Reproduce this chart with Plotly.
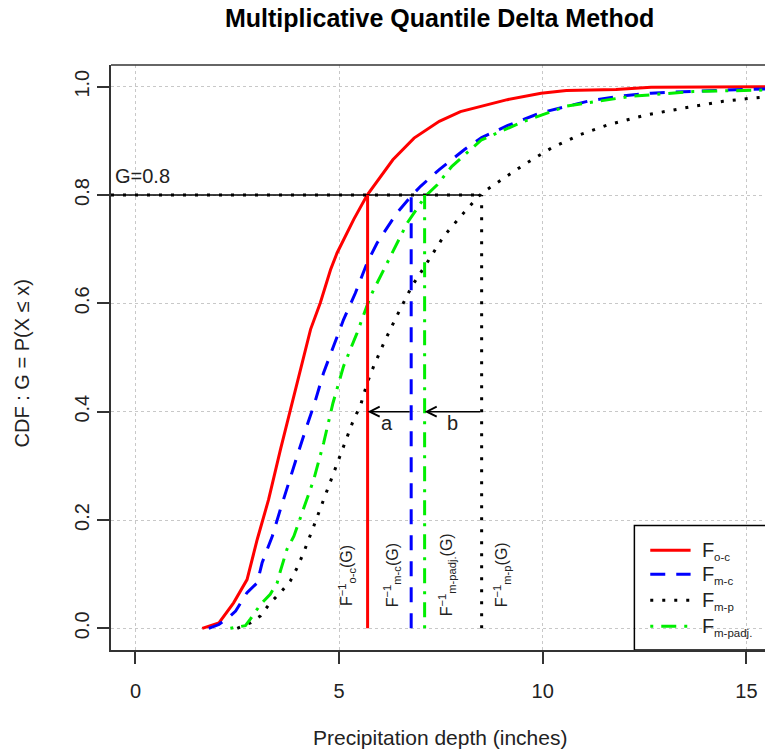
import plotly.graph_objects as go

# ---------------- data ----------------
obs_hist_x = [1.64, 2.05, 2.41, 2.74, 2.99, 3.27, 3.56, 3.81, 4.05, 4.30, 4.54, 4.79, 4.95,
              5.36, 5.69, 5.93, 6.32, 6.84, 7.46, 7.98, 8.5, 9.13, 9.96, 10.58, 11.8, 12.66, 15.6]
obs_hist_y = [0.0, 0.01, 0.047, 0.09, 0.164, 0.238, 0.33, 0.404, 0.478, 0.552, 0.601, 0.662, 0.693,
              0.755, 0.80, 0.825, 0.865, 0.905, 0.936, 0.954, 0.964, 0.976, 0.988, 0.993, 0.995, 0.999, 1.0]

mod_hist_x = [1.80, 2.05, 2.33, 2.46, 2.74, 2.99, 3.11, 3.36, 3.56, 3.76, 3.97, 4.18, 4.40, 4.62,
              4.87, 5.11, 5.40, 5.69, 5.93, 6.42, 6.77, 7.0, 7.46, 8.08, 8.5, 9.13, 9.96, 11.1,
              11.83, 12.66, 14.54, 15.6]
mod_hist_y = [0.0, 0.007, 0.023, 0.032, 0.066, 0.084, 0.121, 0.17, 0.22, 0.269, 0.318, 0.367, 0.416,
              0.472, 0.521, 0.57, 0.619, 0.675, 0.711, 0.767, 0.798, 0.816, 0.847, 0.884, 0.906,
              0.928, 0.952, 0.973, 0.982, 0.988, 0.994, 0.996]

mod_proj_x = [2.5, 2.82, 3.07, 3.31, 3.56, 3.80, 3.97, 4.13, 4.38, 4.62, 4.87, 5.11, 5.36, 5.52,
              5.69, 5.85, 6.10, 6.42, 6.79, 7.16, 7.57, 8.06, 8.43, 8.63, 8.92, 9.54, 10.22, 10.9,
              11.62, 12.56, 13.5, 14.43, 15.16, 15.6]
mod_proj_y = [0.0, 0.01, 0.023, 0.047, 0.066, 0.087, 0.112, 0.14, 0.189, 0.238, 0.287, 0.336, 0.386,
              0.41, 0.453, 0.484, 0.527, 0.577, 0.632, 0.675, 0.724, 0.767, 0.798, 0.81, 0.825,
              0.856, 0.887, 0.911, 0.93, 0.948, 0.961, 0.973, 0.979, 0.982]

adj_x = [2.33, 2.70, 2.82, 3.07, 3.31, 3.48, 3.56, 3.72, 3.89, 4.13, 4.38, 4.62, 4.85, 5.11, 5.44,
         5.77, 6.18, 6.67, 7.12, 7.41, 7.77, 8.5, 9.54, 10.58, 12.14, 13.7, 15.6]
adj_y = [0.0, 0.005, 0.017, 0.044, 0.063, 0.084, 0.106, 0.146, 0.17, 0.22, 0.275, 0.342, 0.416,
         0.484, 0.545, 0.613, 0.675, 0.748, 0.798, 0.819, 0.853, 0.902, 0.936, 0.964, 0.982,
         0.991, 0.994]

G = 0.8
quantiles = {"oc": 5.70, "mc": 6.77, "madj": 7.10, "mp": 8.50}
x_ticks = [0, 5, 10, 15]
y_ticks = [0.0, 0.2, 0.4, 0.6, 0.8, 1.0]
y_ticklabels = ["0.0", "0.2", "0.4", "0.6", "0.8", "1.0"]
legend_subs = ["o-c", "m-c", "m-p", "m-padj."]

# ---------------- styles ----------------
FONT = "Liberation Sans, Arial, sans-serif"
TXT = "#222222"
RED, BLUE, GREEN, BLACK = "#ff0000", "#0000ff", "#00ee00", "#000000"
DASH = "15px,11px"
DOT = "3px,9px"
DASHDOT = "3px,8px,15px,8px"
LW = 3

fig = go.Figure()

def line(x, y, color, dash="solid", width=LW):
    fig.add_trace(go.Scatter(x=x, y=y, mode="lines", showlegend=False, hoverinfo="skip",
                             line=dict(color=color, dash=dash, width=width)))

# CDF curves
line(obs_hist_x, obs_hist_y, RED)
line(mod_hist_x, mod_hist_y, BLUE, DASH)
line(mod_proj_x, mod_proj_y, BLACK, DOT)
line(adj_x, adj_y, GREEN, DASHDOT)

# G = 0.8 horizontal line
line([-0.6, quantiles["mp"]], [G, G], BLACK, "solid", 1.5)
line([-0.6, quantiles["mp"]], [G, G], BLACK, DOT, 3)

# quantile vertical lines
line([quantiles["oc"]] * 2, [0, G], RED)
line([quantiles["mc"]] * 2, [0, G], BLUE, DASH)
line([quantiles["madj"]] * 2, [0, G], GREEN, DASHDOT)
line([quantiles["mp"]] * 2, [0, G], BLACK, DOT)

# legend samples
leg_x = [12.64, 13.63]
leg_y = [0.144, 0.100, 0.052, 0.004]
line(leg_x, [leg_y[0]] * 2, RED)
line(leg_x, [leg_y[1]] * 2, BLUE, DASH)
line(leg_x, [leg_y[2]] * 2, BLACK, DOT)
line(leg_x, [leg_y[3]] * 2, GREEN, DASHDOT)

def txt(x, y, t, size=20, xanchor="center", angle=0, ref="data", color=TXT, yanchor="middle"):
    r = ("x", "y") if ref == "data" else ("paper", "paper")
    return dict(x=x, y=y, text=t, showarrow=False, xref=r[0], yref=r[1], xanchor=xanchor,
                yanchor=yanchor, textangle=angle, font=dict(size=size, color=color, family=FONT))

annotations = []
# arrows
for head, tail in [(quantiles["oc"], quantiles["mc"]), (quantiles["madj"], quantiles["mp"])]:
    annotations.append(dict(x=head, y=0.4, ax=tail, ay=0.4, axref="x", ayref="y", xref="x", yref="y",
                            text="", showarrow=True, arrowhead=5, arrowsize=1.3, arrowwidth=1.5,
                            arrowcolor="#000000"))
annotations.append(txt(6.18, 0.38, "a"))
annotations.append(txt(7.78, 0.38, "b"))
annotations.append(txt(-0.55, 0.835, "G=0.8", xanchor="left"))

# rotated quantile labels
qlabels = [(5.19, "F<sup>−1</sup><sub>o-c</sub>(G)"),
           (6.30, "F<sup>−1</sup><sub>m-c</sub>(G)"),
           (7.65, "F<sup>−1</sup><sub>m-padj.</sub>(G)"),
           (9.00, "F<sup>−1</sup><sub>m-p</sub>(G)")]
for xq, t in qlabels:
    annotations.append(txt(xq, 0.098, t, size=16, angle=-90))

# legend texts: big F + small subscript
for yy, s in zip(leg_y, legend_subs):
    annotations.append(txt(13.87, yy, "F", size=20, xanchor="left"))
    annotations.append(txt(14.15, yy - 0.013, s, size=11.5, xanchor="left"))

# titles
annotations.append(txt(0.503, 1.080, "<b>Multiplicative Quantile Delta Method</b>", size=25,
                       ref="paper", color="#000000"))
annotations.append(txt(0.503, -0.150, "Precipitation depth (inches)", size=21, ref="paper"))
annotations.append(txt(-0.136, 0.49, "CDF : G = P(X ≤ x)", size=20, angle=-90, ref="paper"))

shapes = [
    # top frame line
    dict(type="line", xref="paper", yref="paper", x0=0, x1=1.02, y0=1, y1=1,
         line=dict(color="#333333", width=1.5)),
    # legend box
    dict(type="rect", xref="x", yref="y", x0=12.25, x1=16.5, y0=-0.04, y1=0.19,
         line=dict(color="#000000", width=1.5), fillcolor="rgba(0,0,0,0)"),
]

fig.update_layout(
    width=765, height=751,
    margin=dict(l=111, r=0, t=65, b=101),
    paper_bgcolor="white", plot_bgcolor="white",
    font=dict(family=FONT, size=20, color=TXT),
    annotations=annotations, shapes=shapes,
    xaxis=dict(range=[-0.6, 15.457], tickvals=x_ticks, ticks="outside", ticklen=12, tickwidth=1.5,
               tickcolor="#333333", showline=True, linecolor="#333333", linewidth=1.5,
               showgrid=True, gridcolor="#c8c8c8", griddash="dot", gridwidth=1, zeroline=False,
               tickfont=dict(size=20, color=TXT, family=FONT), ticklabelstandoff=10),
    yaxis=dict(range=[-0.04, 1.04], tickvals=y_ticks, ticktext=y_ticklabels, ticks="outside", ticklen=12,
               tickwidth=1.5, tickcolor="#333333", showline=True, linecolor="#333333", linewidth=1.5,
               showgrid=True, gridcolor="#c8c8c8", griddash="dot", gridwidth=1, zeroline=False,
               tickangle=-90, tickfont=dict(size=20, color=TXT, family=FONT), ticklabelstandoff=0),
)

# remove the page's default body margin so the 765x751 figure fills the window exactly
fig.write_html("out.html", config={"displayModeBar": False},
               post_script="document.body.style.margin='0px';")
